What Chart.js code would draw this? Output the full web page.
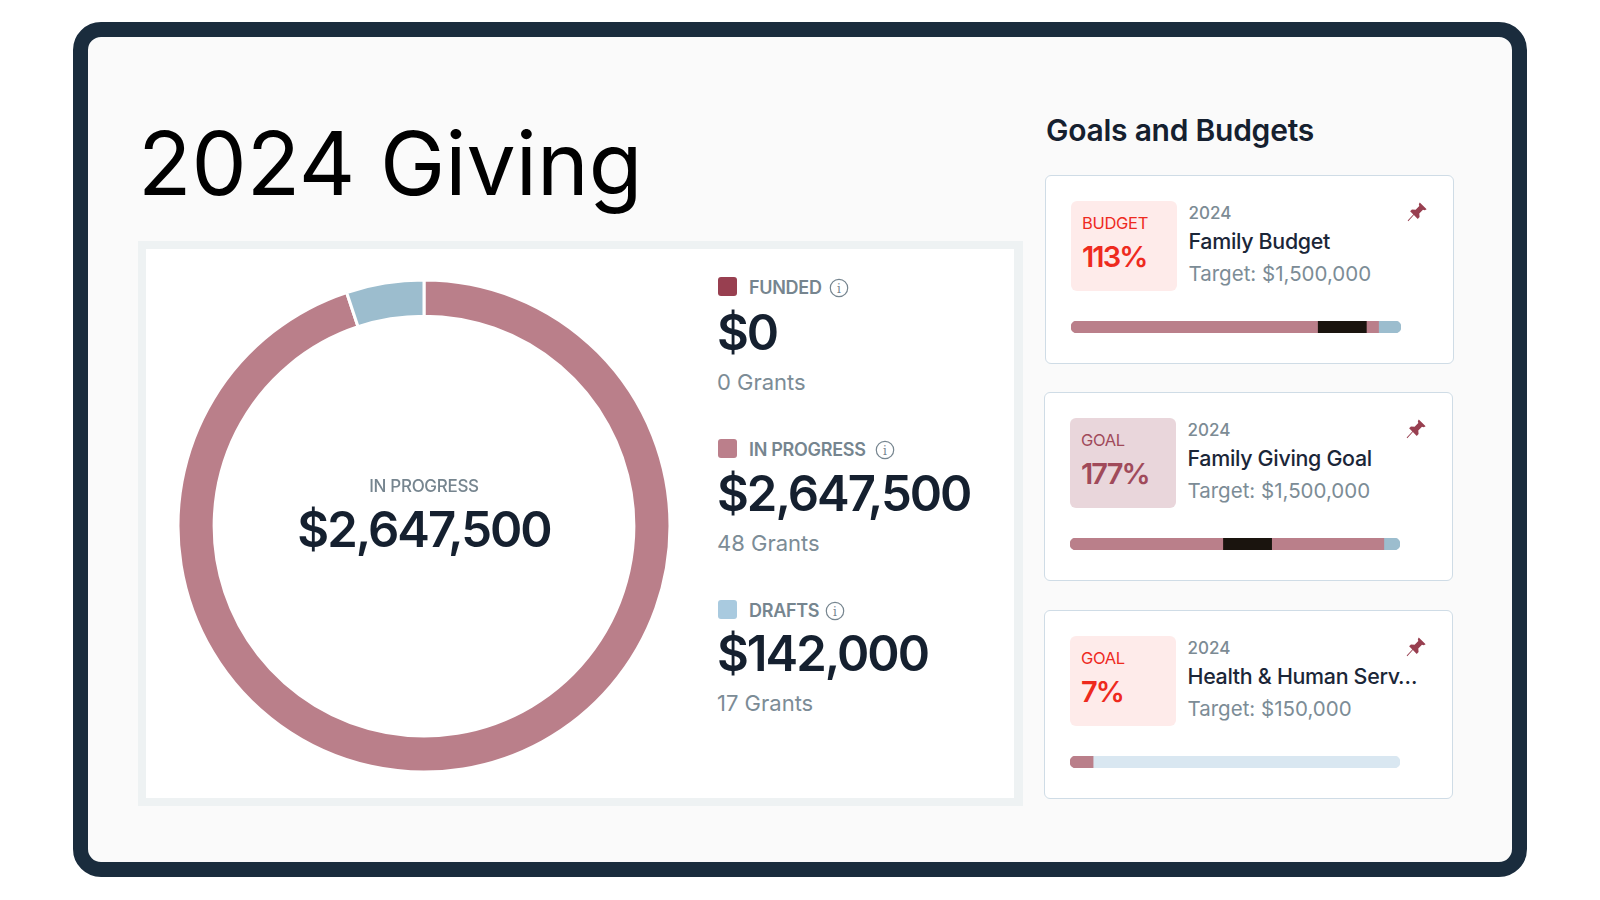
<!DOCTYPE html>
<html>
<head>
<meta charset="utf-8">
<title>2024 Giving</title>
<script src="https://cdn.jsdelivr.net/npm/chart.js@4"></script>
<style>
html, body { margin: 0; padding: 0; background: #fff; }
body { width: 1600px; height: 900px; position: relative; overflow: hidden; font-family: Inter, sans-serif; }
.abs { position: absolute; }
.txt { position: absolute; white-space: nowrap; transform: translateY(-50%); line-height: 1; }
#frame { left: 73px; top: 22px; width: 1424px; height: 825px; border: 15px solid #1A2C3D; border-radius: 28px; background: #FAFAFA; }
#panel { left: 138px; top: 241px; width: 868px; height: 549px; border: 8px solid #EEF2F3; border-right-width: 9px; background: #fff; }
.card { position: absolute; box-sizing: border-box; width: 409px; height: 189px; background: #fff; border: 1.5px solid #CFDCE6; border-radius: 6px; }
.square { position: absolute; width: 19px; height: 19px; border-radius: 3px; }
.big { font-size: 49px; font-weight: 600; color: #15202F; letter-spacing: -2px; }
.lbl { font-size: 18px; font-weight: 600; color: #76858F; letter-spacing: -0.3px; }
.sub { font-size: 22px; font-weight: 400; color: #7C8C96; }
</style>
</head>
<body>
<div id="frame" class="abs"></div>
<div id="panel" class="abs"></div>
<div class="txt" style="left:138px;top:164px;font-size:87.6px;font-weight:400;color:#000;">2024 Giving</div>
<div class="txt" style="left:1046px;top:129.5px;font-size:30px;font-weight:600;color:#15202F;letter-spacing:-0.25px;">Goals and Budgets</div>

<canvas id="donut" class="abs" width="500" height="500" style="left:174px;top:276px;width:500px;height:500px;"></canvas>
<div class="txt lbl" style="left:424px;top:486px;transform:translate(-50%,-50%);font-size:17px;font-weight:500;">IN PROGRESS</div>
<div class="txt big" style="left:424px;top:529px;transform:translate(-50%,-50%);">$2,647,500</div>

<div id="legend"></div>
<div id="cards"></div>

<script>
// donut
var statusLabels = ['FUNDED', 'IN PROGRESS', 'DRAFTS'];
var statusAmounts = [0, 2647500, 142000];
var statusGrants = ['0 Grants', '48 Grants', '17 Grants'];

// goal cards
var cardTypes = ['BUDGET', 'GOAL', 'GOAL'];
var cardPercents = ['113%', '177%', '7%'];
var cardYears = ['2024', '2024', '2024'];
var cardNames = ['Family Budget', 'Family Giving Goal', 'Health & Human Serv…'];
var cardTargets = ['Target: $1,500,000', 'Target: $1,500,000', 'Target: $150,000'];

// bar segments, share of the bar width
var familyBudgetSegments = [74.7, 14.8, 3.7, 6.8];
var familyGoalSegments = [46.3, 14.8, 34, 4.9];
var healthGoalSegments = [7, 93];

var PINK = '#BA7F8A';
var RED = '#983F50';
var BLUE = '#9CBDCE';
var LIGHTBLUE = '#D9E7F1';
var BLACK = '#1A140E';

var statusColors = [RED, PINK, BLUE];
var legendColors = ['#983F50', '#BB7F8B', '#A9CADF'];

var cardColors = [
    {bg: '#FEEBEA', fg: '#EE2A1E'},
    {bg: '#E9D6DB', fg: '#A04A5A'},
    {bg: '#FEEBEA', fg: '#EE2A1E'}
];
var cardPos = [
    {left: 1045, top: 175},
    {left: 1044, top: 392},
    {left: 1044, top: 610}
];
var legendTops = [277, 439, 600];
var valueOffsets = [55, 54, 53];
var grantOffsets = [105, 104, 103];

var pinSvg = '<svg width="22" height="22" viewBox="0 0 24 24"><path fill="#983F50" d="M15 1.5 L22.5 9 L20.5 10 L18.5 9.5 L14.5 13.5 L14.8 17.5 L12.8 19.5 L8.6 15.3 L2.5 22 L1.8 21.3 L8 14.7 L4.5 11.2 L6.5 9.2 L10.5 9.5 L14.5 5.5 L14 3.5 Z"/></svg>';

function infoIcon(x, y) {
    return '<svg class="abs" style="left:' + x + 'px;top:' + y + 'px" width="20" height="20" viewBox="0 0 20 20">' +
        '<circle cx="10" cy="10" r="8.7" fill="none" stroke="#76858F" stroke-width="1.2"/>' +
        '<text x="10" y="14.5" text-anchor="middle" font-family="DejaVu Serif" font-size="12" fill="#76858F">i</text></svg>';
}

function money(v) {
    return '$' + v.toLocaleString('en-US');
}

var legendHtml = '';
var infoX = [829, 875, 825];
for (var i = 0; i < statusLabels.length; i++) {
    var t = legendTops[i];
    legendHtml += '<div class="square" style="left:718px;top:' + t + 'px;background:' + legendColors[i] + '"></div>';
    legendHtml += '<div class="txt lbl" style="left:749px;top:' + (t + 11) + 'px">' + statusLabels[i] + '</div>';
    legendHtml += infoIcon(infoX[i], t + 1);
    legendHtml += '<div class="txt big" style="left:717px;top:' + (t + valueOffsets[i]) + 'px">' + money(statusAmounts[i]) + '</div>';
    legendHtml += '<div class="txt sub" style="left:717px;top:' + (t + grantOffsets[i]) + 'px">' + statusGrants[i] + '</div>';
}
document.getElementById('legend').innerHTML = legendHtml;

var cardsHtml = '';
for (var i = 0; i < cardNames.length; i++) {
    var p = cardPos[i];
    var c = cardColors[i];
    cardsHtml += '<div class="card" style="left:' + p.left + 'px;top:' + p.top + 'px">' +
        '<div class="abs" style="left:25px;top:25px;width:106px;height:90px;border-radius:6px;background:' + c.bg + '"></div>' +
        '<div class="txt" style="left:36px;top:47px;font-size:16.5px;font-weight:400;letter-spacing:-0.3px;color:' + c.fg + '">' + cardTypes[i] + '</div>' +
        '<div class="txt" style="left:36px;top:80px;font-size:29px;font-weight:600;letter-spacing:-1.9px;color:' + c.fg + '">' + cardPercents[i] + '</div>' +
        '<div class="txt" style="left:142.5px;top:37px;font-size:17px;font-weight:500;color:#7C8B94">' + cardYears[i] + '</div>' +
        '<div class="txt" style="left:142.5px;top:65.5px;font-size:21.4px;font-weight:500;letter-spacing:-0.3px;color:#1B2638">' + cardNames[i] + '</div>' +
        '<div class="txt" style="left:142.5px;top:98px;font-size:20.5px;font-weight:400;color:#7C8C96">' + cardTargets[i] + '</div>' +
        '<div class="abs" style="left:360px;top:25px;height:22px">' + pinSvg + '</div>' +
        '<canvas id="bar' + i + '" class="abs" width="330" height="12" style="left:25px;top:145px;width:330px;height:12px"></canvas>' +
        '</div>';
}
document.getElementById('cards').innerHTML = cardsHtml;

new Chart(document.getElementById('donut'), {
    type: 'doughnut',
    data: {
        labels: statusLabels,
        datasets: [{
            data: statusAmounts,
            backgroundColor: statusColors,
            borderColor: '#fff',
            borderWidth: 3
        }]
    },
    options: {
        responsive: false,
        animation: false,
        radius: 246,
        cutout: 212,
        layout: {padding: 0},
        plugins: {legend: {display: false}, tooltip: {enabled: false}}
    }
});

function progressBar(id, segments, colors) {
    var sets = [];
    for (var s = 0; s < segments.length; s++) {
        var radius = 0;
        if (s == 0) radius = {topLeft: 6, bottomLeft: 6, topRight: 0, bottomRight: 0};
        if (s == segments.length - 1) radius = {topLeft: 0, bottomLeft: 0, topRight: 6, bottomRight: 6};
        sets.push({
            data: [segments[s]],
            backgroundColor: colors[s],
            borderWidth: 0,
            borderSkipped: false,
            borderRadius: radius,
            barPercentage: 1,
            categoryPercentage: 1
        });
    }
    new Chart(document.getElementById(id), {
        type: 'bar',
        data: {labels: [''], datasets: sets},
        options: {
            indexAxis: 'y',
            responsive: false,
            animation: false,
            layout: {padding: 0},
            scales: {
                x: {stacked: true, min: 0, max: 100, display: false},
                y: {stacked: true, display: false}
            },
            plugins: {legend: {display: false}, tooltip: {enabled: false}}
        }
    });
}

progressBar('bar0', familyBudgetSegments, [PINK, BLACK, PINK, BLUE]);
progressBar('bar1', familyGoalSegments, [PINK, BLACK, PINK, BLUE]);
progressBar('bar2', healthGoalSegments, [PINK, LIGHTBLUE]);
</script>
</body>
</html>
